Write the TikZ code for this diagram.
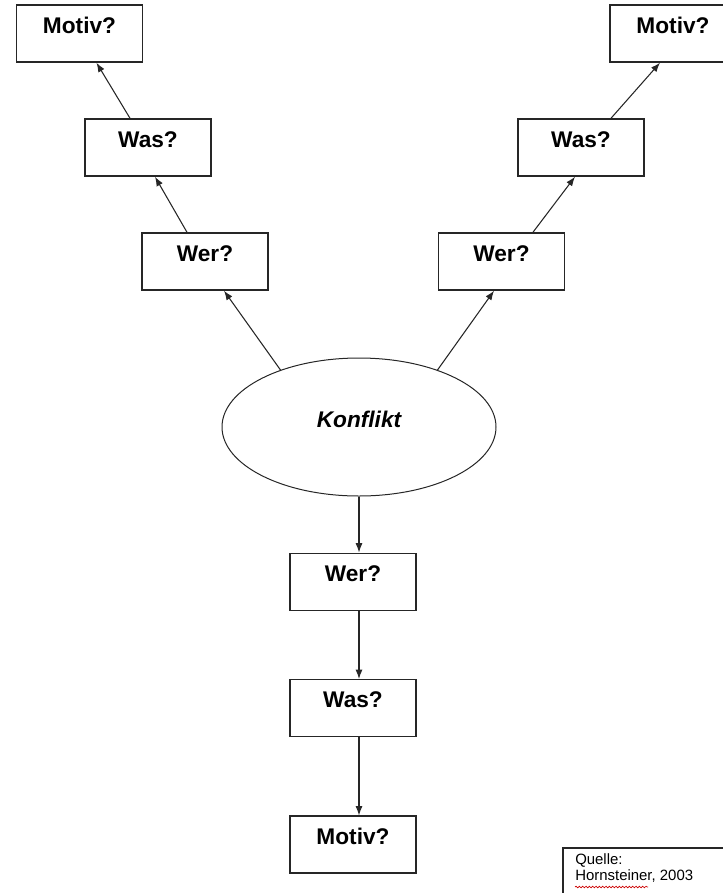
\documentclass[tikz,border=0pt]{standalone}
\usepackage{fontspec}
\setmainfont{Liberation Sans}
\usepackage{tikz}
\usetikzlibrary{arrows.meta,positioning,shapes.geometric,decorations.pathmorphing}

\begin{document}
\begin{tikzpicture}[
  x=0.75pt,y=-0.75pt,
  box/.style={draw=black!85,line width=1.1pt,fill=white,inner sep=0pt,minimum width=94.5pt,text height=21pt,text depth=21.75pt,font=\fontsize{17}{20}\selectfont\bfseries},
  oval/.style={ellipse,draw=black!85,line width=0.75pt,inner sep=0pt,minimum width=205.5pt,minimum height=103.5pt,text height=12pt,text depth=12pt,font=\fontsize{17}{20}\selectfont\bfseries\itshape},
  line/.style={-{Latex[length=7pt,width=5.25pt]},line width=0.8pt,draw=black!85},
  note/.style={anchor=north west,inner sep=0pt,align=left,font=\fontsize{11.2}{12.5}\selectfont},
  squiggle/.style={draw=red!80!black,line width=0.5pt,decorate,decoration={snake,segment length=2.5pt,amplitude=0.6pt}}
]
\useasboundingbox (0,0) rectangle (723,893);
\node[oval] (konflikt) at (359,427) {Konflikt};
\node[box] (werl) at (205,261.5) {Wer?};
\node[box] (wasl) at (148,147.5) {Was?};
\node[box] (motivl) at (79.5,33.5) {Motiv?};
\node[box] (werr) at (501.5,261.5) {Wer?};
\node[box] (wasr) at (581,147.5) {Was?};
\node[box] (motivr) at (673,33.5) {Motiv?};
\node[box,below=42pt of konflikt,xshift=-4.5pt] (werb) {Wer?};
\node[box,below=51pt of werb] (wasb) {Was?};
\node[box,below=58.5pt of wasb] (motivb) {Motiv?};
\node[note] (quelle) at (575,853) {Quelle:\\Hornsteiner, 2003};
\draw[line width=0.8pt,draw=black!85] ([xshift=-9pt,yshift=3.75pt]quelle.north west) rectangle ++(190,60);
\draw[squiggle] (575,887) -- (648,887);
\draw[line] (konflikt.144) -- ([xshift=14.25pt]werl.south);
\draw[line] ([xshift=-13.5pt]werl.north) -- ([xshift=5.25pt]wasl.south);
\draw[line] ([xshift=-13.5pt]wasl.north) -- ([xshift=12.75pt]motivl.south);
\draw[line] (konflikt.36) -- ([xshift=-5.6pt]werr.south);
\draw[line] ([xshift=23.6pt]werr.north) -- ([xshift=-4.5pt]wasr.south);
\draw[line] ([xshift=22.5pt]wasr.north) -- ([xshift=-9.75pt]motivr.south);
\draw[line] (konflikt.south) -- (konflikt.south |- werb.north);
\draw[line] ([xshift=4.5pt]werb.south) -- ([xshift=4.5pt]wasb.north);
\draw[line] ([xshift=4.5pt]wasb.south) -- ([xshift=4.5pt]motivb.north);
\end{tikzpicture}
\end{document}
